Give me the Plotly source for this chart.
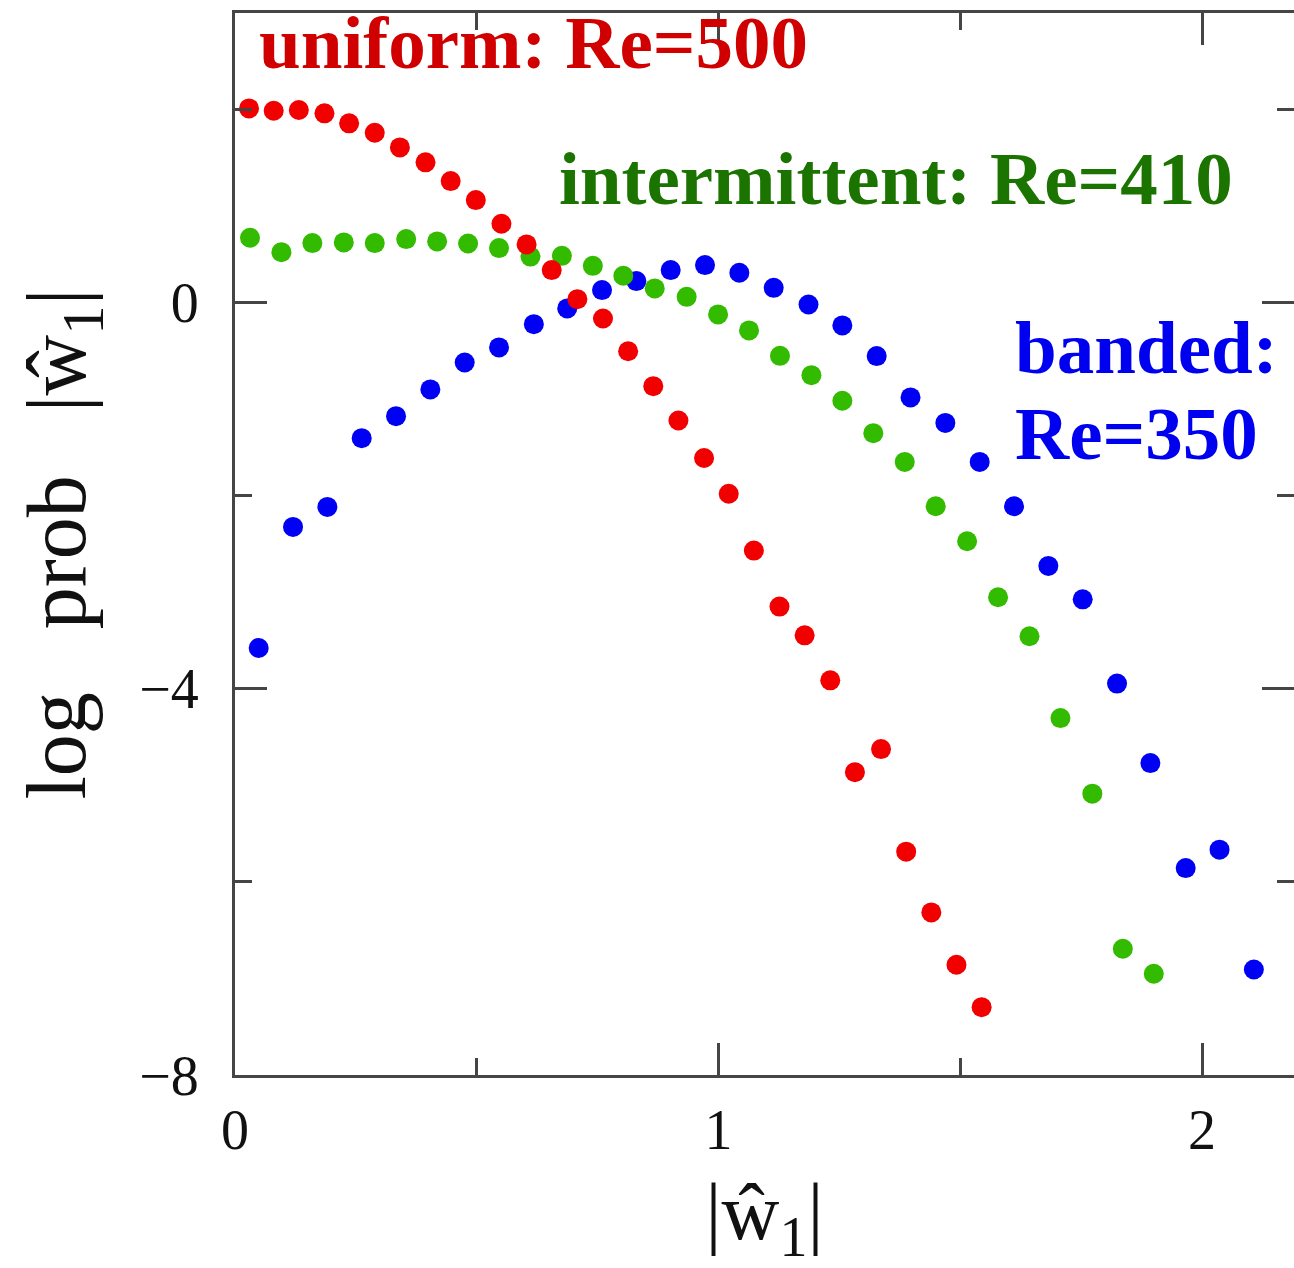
import plotly.graph_objects as go

# Log-probability of |w1| for three flow regimes (bin centre, log prob)
uniform_w = [0.029, 0.080, 0.132, 0.185, 0.236, 0.289, 0.341, 0.394, 0.446, 0.498,
             0.551, 0.603, 0.655, 0.708, 0.761, 0.813, 0.865, 0.917, 0.970, 1.021,
             1.073, 1.126, 1.178, 1.231, 1.282, 1.336, 1.388, 1.440, 1.492, 1.544]
uniform_logp = [2.012, 1.988, 1.995, 1.961, 1.857, 1.760, 1.608, 1.453, 1.259, 1.062,
                0.817, 0.603, 0.337, 0.036, -0.164, -0.503, -0.865, -1.221, -1.609, -1.979,
                -2.568, -3.148, -3.446, -3.912, -4.863, -4.624, -5.687, -6.316, -6.858, -7.297]

intermittent_w = [0.031, 0.096, 0.160, 0.225, 0.289, 0.354, 0.418, 0.482, 0.546, 0.611,
                  0.676, 0.740, 0.803, 0.868, 0.934, 0.999, 1.063, 1.127, 1.192, 1.256,
                  1.320, 1.385, 1.449, 1.514, 1.578, 1.643, 1.707, 1.773, 1.836, 1.900]
intermittent_logp = [0.672, 0.523, 0.617, 0.624, 0.617, 0.658, 0.634, 0.613, 0.565, 0.477,
                     0.485, 0.381, 0.278, 0.147, 0.060, -0.122, -0.288, -0.551, -0.751, -1.016,
                     -1.352, -1.650, -2.109, -2.472, -3.052, -3.456, -4.303, -5.086, -6.692, -6.951]

banded_w = [0.049, 0.120, 0.191, 0.262, 0.333, 0.404, 0.475, 0.546, 0.618, 0.687,
            0.759, 0.830, 0.901, 0.972, 1.043, 1.114, 1.186, 1.256, 1.327, 1.397,
            1.469, 1.540, 1.611, 1.682, 1.753, 1.824, 1.893, 1.966, 2.036, 2.107]
banded_logp = [-3.577, -2.323, -2.116, -1.404, -1.176, -0.899, -0.620, -0.464, -0.223, -0.060,
               0.130, 0.223, 0.337, 0.389, 0.309, 0.153, -0.019, -0.236, -0.554, -0.982,
               -1.246, -1.650, -2.109, -2.727, -3.073, -3.946, -4.769, -5.857, -5.666, -6.907]

x_ticks = [0, 1, 2]
y_ticks = [-8, -4, 0]
y_tick_text = ["\u22128", "\u22124", "0"]

SERIF = "Liberation Serif, Times New Roman, serif"
AXIS = "#454545"
Y_RANGE = [-8, 3]

fig = go.Figure()

# banded first, then intermittent, uniform drawn on top
series = [
    (banded_w, banded_logp, "#0000f5"),
    (intermittent_w, intermittent_logp, "#33bb00"),
    (uniform_w, uniform_logp, "#f20000"),
]
for xs, ys, col in series:
    fig.add_trace(go.Scatter(
        x=xs, y=ys, mode="markers",
        marker=dict(size=20, color=col, line=dict(width=0)),
        showlegend=False, hoverinfo="x+y",
    ))

# empty trace so the right-hand tick axis is laid out
fig.add_trace(go.Scatter(x=[], y=[], yaxis="y2", showlegend=False, hoverinfo="skip"))

labels = [
    ("uniform: Re=500", 0.046, 2.69, "#d00000"),
    ("intermittent: Re=410", 0.665, 1.29, "#1c7400"),
    ("banded:", 1.608, -0.46, "#0000f0"),
    ("Re=350", 1.608, -1.36, "#0000f0"),
]
for text, x, y, col in labels:
    fig.add_annotation(
        x=x, y=y, xref="x", yref="y", text="<b>" + text + "</b>",
        showarrow=False, xanchor="left", yanchor="middle",
        font=dict(family=SERIF, size=75, color=col),
    )

fig.update_xaxes(
    range=[0, 2.19], tickmode="array", tickvals=x_ticks,
    ticks="inside", ticklen=32, tickwidth=2.5, tickcolor=AXIS,
    minor=dict(dtick=0.5, ticks="inside", ticklen=17, tickwidth=2.5, tickcolor=AXIS),
    showline=True, linewidth=3, linecolor=AXIS, mirror="ticks",
    showgrid=False, zeroline=False,
    ticklabelstandoff=4,
    tickfont=dict(family=SERIF, size=56, color="#111"),
    title=dict(text="|\u0175<sub>1</sub>|", font=dict(family=SERIF, size=80, color="#111"),
               standoff=28),
)
fig.update_yaxes(
    range=Y_RANGE, tickmode="array", tickvals=y_ticks, ticktext=y_tick_text,
    ticks="inside", ticklen=32, tickwidth=2.5, tickcolor=AXIS,
    minor=dict(dtick=2, ticks="inside", ticklen=17, tickwidth=2.5, tickcolor=AXIS),
    showline=True, linewidth=3, linecolor=AXIS, mirror=False,
    showgrid=False, zeroline=False,
    ticklabelstandoff=22,
    tickfont=dict(family=SERIF, size=56, color="#111"),
    title=dict(text="log\u2002 prob\u2002 |\u0175<sub>1</sub>|",
               font=dict(family=SERIF, size=84, color="#111"), standoff=26),
    selector=dict(overlaying=None),
)

fig.update_layout(
    yaxis2=dict(
        overlaying="y", side="right", anchor="x", range=Y_RANGE,
        tickmode="array", tickvals=y_ticks, showticklabels=False,
        ticks="inside", ticklen=32, tickwidth=2.5, tickcolor=AXIS,
        minor=dict(dtick=2, ticks="inside", ticklen=17, tickwidth=2.5, tickcolor=AXIS),
        showline=False, showgrid=False, zeroline=False,
    ),
    width=1294, height=1268,
    margin=dict(l=235, r=0, t=13, b=193),
    plot_bgcolor="white", paper_bgcolor="white",
    showlegend=False,
)

fig.write_html("out.html")
